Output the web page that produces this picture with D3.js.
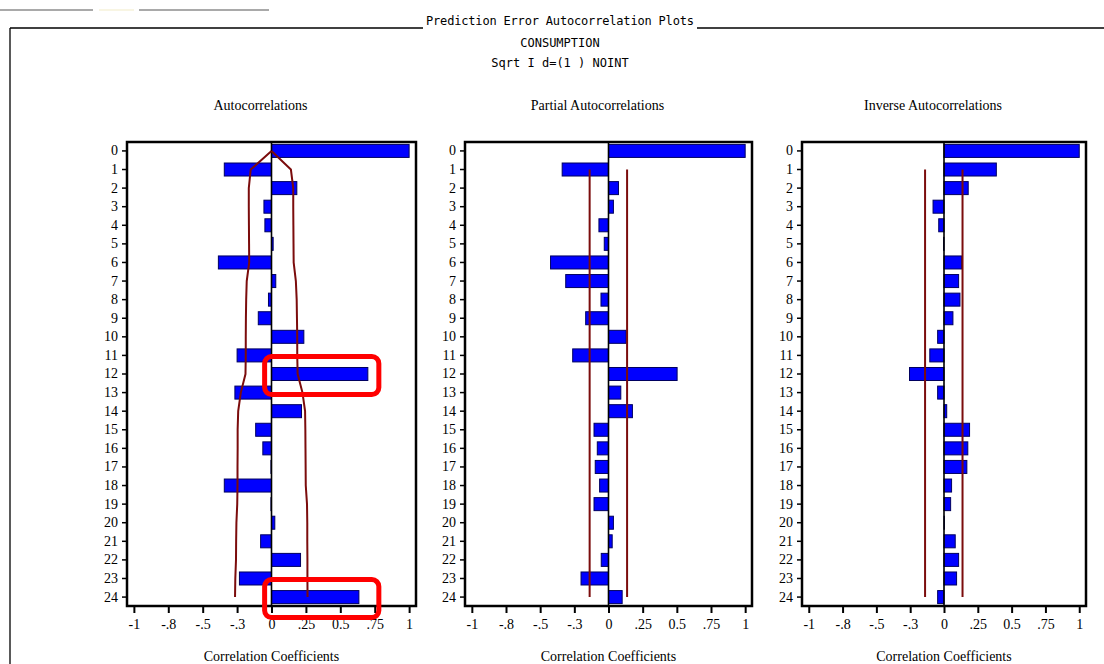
<!DOCTYPE html>
<html>
<head>
<meta charset="utf-8">
<script src="https://cdn.jsdelivr.net/npm/d3@7"></script>
<style>
  body { margin: 0; background: #fff; }
  svg { display: block; }
  .serif { font-family: "Liberation Serif", "DejaVu Serif", serif; }
  .mono { font-family: "DejaVu Sans Mono", "Liberation Mono", monospace; }
</style>
</head>
<body>
<div id="chart"></div>
<script>
var lags = [0, 1, 2, 3, 4, 5, 6, 7, 8, 9, 10, 11, 12, 13, 14, 15, 16, 17, 18, 19, 20, 21, 22, 23, 24];

var acf = [1.0, -0.343, 0.184, -0.055, -0.048, 0.012, -0.386, 0.031, -0.022, -0.096, 0.235, -0.25, 0.70,
  -0.266, 0.218, -0.115, -0.063, -0.004, -0.343, -0.004, 0.024, -0.079, 0.211, -0.233, 0.635];
var acfLower = [0, -0.151, -0.165, -0.165, -0.164, -0.163, -0.162, -0.18, -0.184, -0.186, -0.187, -0.187, -0.189,
  -0.223, -0.242, -0.246, -0.246, -0.247, -0.247, -0.249, -0.255, -0.257, -0.258, -0.263, -0.265];
var acfUpper = [0, 0.141, 0.158, 0.158, 0.159, 0.16, 0.161, 0.177, 0.183, 0.185, 0.187, 0.187, 0.19,
  0.225, 0.244, 0.246, 0.247, 0.248, 0.249, 0.258, 0.26, 0.26, 0.261, 0.261, 0.262];

var pacf = [1.0, -0.339, 0.073, 0.036, -0.07, -0.031, -0.424, -0.313, -0.055, -0.167, 0.129, -0.262, 0.502,
  0.09, 0.175, -0.106, -0.082, -0.097, -0.065, -0.106, 0.036, 0.027, -0.053, -0.201, 0.1];
var pacfLimits = [-0.138, 0.136];

var iacf = [1.0, 0.387, 0.179, -0.081, -0.039, -0.003, 0.13, 0.108, 0.118, 0.066, -0.047, -0.105, -0.255,
  -0.047, 0.02, 0.189, 0.176, 0.169, 0.056, 0.049, 0.003, 0.083, 0.108, 0.093, -0.047];
var iacfLimits = [-0.14, 0.137];

var xTicks = [-1, -0.75, -0.5, -0.25, 0, 0.25, 0.5, 0.75, 1];
var xTickLabels = ["-1", "-.8", "-.5", "-.3", "0", ".25", "0.5", ".75", "1"];

var headerLines = ["Prediction Error Autocorrelation Plots", "CONSUMPTION", "Sqrt I d=(1 ) NOINT"];
var panelTitles = ["Autocorrelations", "Partial Autocorrelations", "Inverse Autocorrelations"];
var axisTitle = "Correlation Coefficients";
var highlightLags = [12, 24];

window.onload = () => {
  var W = 1104, H = 664;
  var svg = d3.select("#chart").append("svg")
    .attr("width", W)
    .attr("height", H);

  // header with the framing line broken around the title
  var head = svg.append("text")
    .attr("class", "mono")
    .attr("x", 560).attr("y", 25)
    .attr("text-anchor", "middle")
    .attr("font-size", 12)
    .attr("textLength", 268)
    .text(headerLines[0]);
  var hb = head.node().getBBox();

  svg.append("line").attr("x1", 10).attr("x2", hb.x - 3).attr("y1", 28).attr("y2", 28)
    .attr("stroke", "#000").attr("stroke-width", 1.3);
  svg.append("line").attr("x1", hb.x + hb.width + 3).attr("x2", W).attr("y1", 28).attr("y2", 28)
    .attr("stroke", "#000").attr("stroke-width", 1.3);
  svg.append("line").attr("x1", 10).attr("x2", 10).attr("y1", 28).attr("y2", H)
    .attr("stroke", "#000").attr("stroke-width", 1.3);

  // leftover bits at the very top
  svg.append("line").attr("x1", 0).attr("x2", 93).attr("y1", 10).attr("y2", 10)
    .attr("stroke", "#555").attr("stroke-width", 1.2);
  svg.append("line").attr("x1", 99).attr("x2", 134).attr("y1", 10).attr("y2", 10)
    .attr("stroke", "#f2ecc8").attr("stroke-width", 1.2);
  svg.append("line").attr("x1", 139).attr("x2", 269).attr("y1", 10).attr("y2", 10)
    .attr("stroke", "#555").attr("stroke-width", 1.2);

  svg.selectAll(".subhead")
    .data(headerLines.slice(1))
    .enter().append("text")
    .attr("class", "mono subhead")
    .attr("x", 560)
    .attr("y", (d, i) => 47 + i * 20)
    .attr("text-anchor", "middle")
    .attr("font-size", 12)
    .text(d => d);

  var panels = [
    { left: 127, right: 416, values: acf, title: panelTitles[0] },
    { left: 465, right: 752, values: pacf, title: panelTitles[1], limits: pacfLimits },
    { left: 802, right: 1086, values: iacf, title: panelTitles[2], limits: iacfLimits }
  ];

  var top = 142, bottom = 606;
  var darkRed = "#7b0c0c";

  panels.forEach(function(p, pi) {
    var g = svg.append("g");

    var x = d3.scaleLinear().domain([-1.05, 1.05]).range([p.left, p.right]);
    var y = d3.scaleBand().domain(lags).range([top, bottom])
      .paddingInner(0.3).paddingOuter(0.13);
    var yc = d => y(d) + y.bandwidth() / 2;

    // frame
    g.append("rect")
      .attr("x", p.left).attr("y", top)
      .attr("width", p.right - p.left).attr("height", bottom - top)
      .attr("fill", "#fff")
      .attr("stroke", "#000").attr("stroke-width", 2.5);

    // bars
    g.selectAll(".bar")
      .data(p.values)
      .enter().append("rect")
      .attr("class", "bar")
      .attr("x", d => x(Math.min(0, d)))
      .attr("y", (d, i) => y(lags[i]))
      .attr("width", d => Math.abs(x(d) - x(0)))
      .attr("height", y.bandwidth())
      .attr("fill", "#0000ff")
      .attr("stroke", "#000060")
      .attr("stroke-width", 1);

    // zero line
    g.append("line")
      .attr("x1", x(0)).attr("x2", x(0))
      .attr("y1", top).attr("y2", bottom)
      .attr("stroke", "#000").attr("stroke-width", 1.6);

    // confidence limits
    if (p.limits) {
      p.limits.forEach(function(v) {
        g.append("line")
          .attr("x1", x(v)).attr("x2", x(v))
          .attr("y1", yc(lags[1])).attr("y2", yc(lags[lags.length - 1]))
          .attr("stroke", darkRed).attr("stroke-width", 2);
      });
    } else {
      [acfLower, acfUpper].forEach(function(band) {
        g.append("path")
          .datum(band)
          .attr("fill", "none")
          .attr("stroke", darkRed)
          .attr("stroke-width", 2)
          .attr("d", d3.line().x(d => x(d)).y((d, i) => yc(lags[i])));
      });
    }

    // axes
    var yAxis = g.append("g")
      .attr("class", "serif")
      .attr("transform", "translate(" + p.left + ",0)")
      .call(d3.axisLeft(y).tickSize(5).tickPadding(4));
    yAxis.select(".domain").remove();
    yAxis.selectAll("text").attr("font-size", 14).attr("fill", "#000");
    yAxis.selectAll("line").attr("stroke-width", 1.5);

    var xAxis = g.append("g")
      .attr("class", "serif")
      .attr("transform", "translate(0," + bottom + ")")
      .call(d3.axisBottom(x)
        .tickValues(xTicks)
        .tickFormat((d, i) => xTickLabels[i])
        .tickSize(7)
        .tickPadding(6));
    xAxis.select(".domain").remove();
    xAxis.selectAll("text").attr("font-size", 14).attr("fill", "#000");
    xAxis.selectAll("line").attr("stroke-width", 2);

    // titles
    g.append("text")
      .attr("class", "serif")
      .attr("x", x(0) - 11).attr("y", 110)
      .attr("text-anchor", "middle")
      .attr("font-size", 14)
      .text(p.title);

    g.append("text")
      .attr("class", "serif")
      .attr("x", x(0)).attr("y", 661)
      .attr("text-anchor", "middle")
      .attr("font-size", 14)
      .text(axisTitle);

    // hand-drawn highlight boxes on the first panel
    if (pi === 0) {
      g.selectAll(".hl")
        .data(highlightLags)
        .enter().append("rect")
        .attr("class", "hl")
        .attr("x", x(-0.05))
        .attr("y", d => y(d) - 11)
        .attr("width", x(0.78) - x(-0.05))
        .attr("height", y.bandwidth() + 25)
        .attr("rx", 7)
        .attr("fill", "none")
        .attr("stroke", "#ff0000")
        .attr("stroke-width", 5);
    }
  });
};
</script>
</body>
</html>
